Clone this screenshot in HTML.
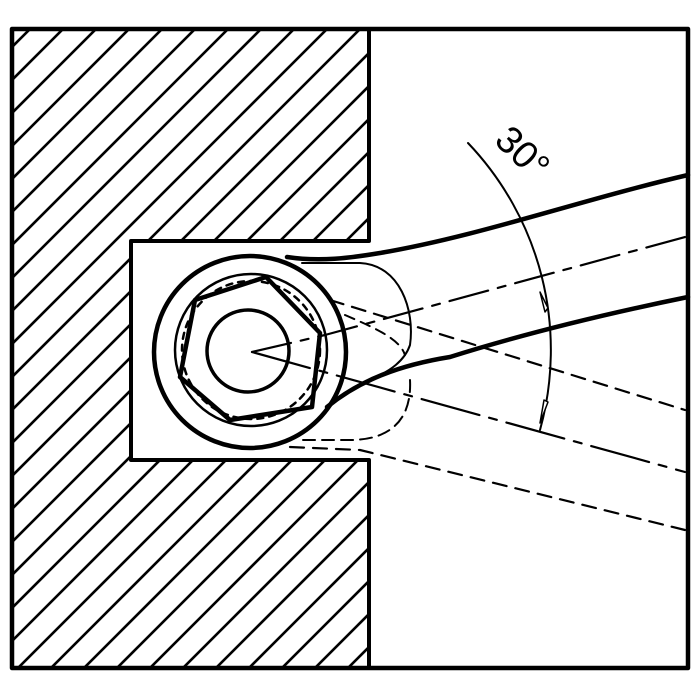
<!DOCTYPE html>
<html><head><style>html,body{margin:0;padding:0;background:#fff;}svg{display:block}</style></head>
<body>
<svg width="700" height="700" viewBox="0 0 700 700" xmlns="http://www.w3.org/2000/svg">
<defs>
<clipPath id="c"><path d="M12 29 H369 V241 H131 V460 H369 V668 H12 Z"/></clipPath>
</defs>
<rect x="0" y="0" width="700" height="700" fill="#fff"/>
<g clip-path="url(#c)" stroke="#000" stroke-width="2.6">
<line x1="-641" y1="700" x2="59" y2="0"/><line x1="-608" y1="700" x2="92" y2="0"/><line x1="-575" y1="700" x2="125" y2="0"/><line x1="-542" y1="700" x2="158" y2="0"/><line x1="-509" y1="700" x2="191" y2="0"/><line x1="-476" y1="700" x2="224" y2="0"/><line x1="-443" y1="700" x2="257" y2="0"/><line x1="-410" y1="700" x2="290" y2="0"/><line x1="-377" y1="700" x2="323" y2="0"/><line x1="-344" y1="700" x2="356" y2="0"/><line x1="-311" y1="700" x2="389" y2="0"/><line x1="-278" y1="700" x2="422" y2="0"/><line x1="-245" y1="700" x2="455" y2="0"/><line x1="-212" y1="700" x2="488" y2="0"/><line x1="-179" y1="700" x2="521" y2="0"/><line x1="-146" y1="700" x2="554" y2="0"/><line x1="-113" y1="700" x2="587" y2="0"/><line x1="-80" y1="700" x2="620" y2="0"/><line x1="-47" y1="700" x2="653" y2="0"/><line x1="-14" y1="700" x2="686" y2="0"/><line x1="19" y1="700" x2="719" y2="0"/><line x1="52" y1="700" x2="752" y2="0"/><line x1="85" y1="700" x2="785" y2="0"/><line x1="118" y1="700" x2="818" y2="0"/><line x1="151" y1="700" x2="851" y2="0"/><line x1="184" y1="700" x2="884" y2="0"/><line x1="217" y1="700" x2="917" y2="0"/><line x1="250" y1="700" x2="950" y2="0"/><line x1="283" y1="700" x2="983" y2="0"/><line x1="316" y1="700" x2="1016" y2="0"/><line x1="349" y1="700" x2="1049" y2="0"/>
</g>
<g fill="none" stroke="#000" stroke-linecap="round" stroke-linejoin="round">
<path d="M12 29 H688 V668 H12 Z" stroke-width="4.5"/>
<path d="M369 29 V241 H131 V460 H369 V668" stroke-width="4"/>
<circle cx="250" cy="352" r="96" stroke-width="4.5"/>
<circle cx="251" cy="350" r="76" stroke-width="2.5"/>
<circle cx="248" cy="351" r="41" stroke-width="3.5"/>
<polygon points="266,277 320,333 312,407 230,420 180,377 195,300" stroke-width="4.5"/>
<circle cx="251" cy="350" r="69" stroke-width="2.5" stroke-dasharray="6 6"/>
<path d="M287 257 C320 262 350 258 380 253 C480 236 580 200 688 175" stroke-width="4.5"/>
<path d="M327 407 C360 380 400 365 450 357 C520 335 600 315 688 297" stroke-width="4.5"/>
<path d="M302 263 H360 C400 265 415 310 410 345 C405 360 390 372 372 378" stroke-width="2"/>
<path d="M252 352 L325 335 L685 237" stroke-width="2.2" stroke-dasharray="40 10 8 10"/>
<path d="M252 352 L335 375 L685 472" stroke-width="2.2" stroke-dasharray="60 10 8 10"/>
<path d="M330 300 L685 410" stroke-width="2.2" stroke-dasharray="14 9"/>
<path d="M345 315 C380 330 400 340 405 355" stroke-width="2" stroke-dasharray="10 7"/>
<path d="M410 380 C412 420 390 440 350 440 L300 440" stroke-width="2" stroke-dasharray="12 7"/>
<path d="M290 447 L360 450 L685 530" stroke-width="2.2" stroke-dasharray="14 9"/>
<path d="M468 143 A300 300 0 0 1 540 430" stroke-width="2"/>
<path d="M540 292 L545 312 L548 308 Z" fill="#fff" stroke-width="1.5"/>
<path d="M544 400 L540 423 L548 402 Z" fill="#fff" stroke-width="1.5"/>
</g>
<text x="0" y="0" transform="translate(493,142) rotate(44)" font-family="Liberation Sans, sans-serif" font-size="38" fill="#000">30°</text>
</svg>
</body></html>
